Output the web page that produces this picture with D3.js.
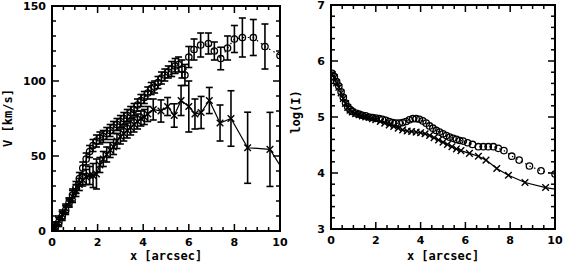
<!DOCTYPE html>
<html><head><meta charset="utf-8">
<script src="https://cdn.jsdelivr.net/npm/d3@7"></script>
<style>body{margin:0;background:#fff}svg{display:block}</style>
</head><body><svg id="c" width="564" height="265"></svg>
<script>
// ---- Left panel: rotation velocity ----
const vCircX = [0.05,0.15,0.3,0.45,0.6,0.75,0.9,1.05,1.2,1.35,1.5,1.65,1.8,1.95,2.1,2.25,2.4,2.55,2.7,2.85,3.0,3.15,3.3,3.45,3.6,3.75,3.9,4.05,4.2,4.35,4.5,4.65,4.8,4.95,5.1,5.25,5.4,5.55,5.7,5.83,6.0,6.23,6.52,6.86,7.12,7.4,7.7,8.0,8.35,8.83,9.34,10.0];
const vCircV = [1,3,6,10,14,19,24,29,35,42,48,53,57,60,62,63,65,67,69,71,73,75,77,79,81,84,87,89,92,95,96,99,102,104,106,108,110,111,108,104,116,121,124,125,120,115,122,128,129,129,123,117];
const vCircE = [3,3,3,3,3,3,4,4,4,4,4,4,4,4,4,4,4,4,4,4,4,4,4,4,4,4,4,4,4,4,4,4,4,4,4,5,5,5,6,7,7,7,8,7,6,7.5,8,9,13,12,15,0];

const vCrossX = [0.05,0.15,0.3,0.45,0.6,0.75,0.9,1.05,1.2,1.35,1.5,1.65,1.8,1.95,2.1,2.25,2.4,2.55,2.7,2.85,3.0,3.15,3.3,3.45,3.6,3.75,3.9,4.05,4.2,4.44,4.78,5.07,5.36,5.66,6.0,6.27,6.54,6.9,7.37,7.85,8.58,9.56,10.2];
const vCrossV = [1,3,7,11,15,19,23,27,31,34,36,37,37,38,44,48,51,54,56,60,63,65,67,69,71,73,75,76,78,81,80,83,77,87,83,78,79,87,72,75,55.5,54.4,39];
const vCrossE = [3,3,3,3,3,3,4,4,4,4,5,6,8,10,5,5,5,5,5,5,5,5,5,5,5,5,5,5,5,7,7.4,6,7.8,10,17,10,10.7,8.7,12,18.5,23.7,24.7,0];

// ---- Right panel: log(I) ----
const iCircX = [0.05,0.15,0.25,0.35,0.45,0.55,0.65,0.75,0.85,0.95,1.1,1.25,1.4,1.55,1.7,1.85,2.0,2.15,2.3,2.45,2.6,2.75,2.9,3.05,3.2,3.35,3.5,3.65,3.8,3.95,4.1,4.25,4.4,4.55,4.7,4.85,5.0,5.15,5.3,5.45,5.6,5.75,5.9,6.1,6.32,6.58,6.8,7.02,7.25,7.47,7.72,8.07,8.4,8.86,9.375,10.0];
const iCircV = [5.78,5.72,5.63,5.55,5.45,5.35,5.25,5.18,5.13,5.10,5.07,5.05,5.03,5.02,5.0,4.99,4.98,4.97,4.96,4.94,4.92,4.90,4.89,4.89,4.90,4.92,4.95,4.97,4.97,4.96,4.93,4.89,4.84,4.80,4.76,4.73,4.70,4.67,4.64,4.62,4.60,4.58,4.57,4.54,4.51,4.47,4.47,4.47,4.47,4.44,4.40,4.30,4.23,4.125,4.04,3.98];

const iCrossX = [0.05,0.15,0.25,0.35,0.45,0.55,0.65,0.75,0.85,0.95,1.1,1.25,1.4,1.55,1.7,1.85,2.0,2.2,2.4,2.6,2.8,3.0,3.2,3.4,3.6,3.8,4.0,4.2,4.4,4.6,4.8,5.0,5.2,5.4,5.6,5.8,6.18,6.58,6.92,7.4,7.92,8.66,9.58,10.3];
const iCrossV = [5.76,5.70,5.61,5.53,5.43,5.33,5.24,5.17,5.12,5.09,5.06,5.04,5.02,5.0,4.99,4.97,4.95,4.92,4.89,4.86,4.83,4.80,4.77,4.75,4.74,4.73,4.72,4.70,4.67,4.63,4.59,4.55,4.51,4.47,4.43,4.40,4.35,4.30,4.23,4.08,3.96,3.83,3.74,3.69];

const xTicks = [0,2,4,6,8,10];
const vTicks = [0,50,100,150];
const iTicks = [3,4,5,6,7];

const svg = d3.select("#c");
const FONT = "DejaVu Sans, sans-serif";
const LFONT = "DejaVu Sans Mono, monospace";

function panel(o){
  const g = svg.append("g");
  const x = d3.scaleLinear().domain([0,10]).range([o.x0,o.x1]);
  const y = d3.scaleLinear().domain(o.ydom).range([o.y1,o.y0]);
  const cid = "clip"+o.id;
  svg.append("clipPath").attr("id",cid).append("rect")
    .attr("x",o.x0).attr("y",o.y0).attr("width",o.x1-o.x0).attr("height",o.y1-o.y0);
  const data = g.append("g").attr("clip-path",`url(#${cid})`);
  const tk = g.append("g").attr("stroke","#000").attr("stroke-width",1.5);
  const xMinor = d3.range(0,10.001,0.5), yMinor = d3.range(o.ydom[0],o.ydom[1]+1e-6,o.yminor);
  xMinor.forEach(v=>{
    const major = Math.abs(v/2-Math.round(v/2))<1e-6;
    const L = major?7:4;
    tk.append("line").attr("x1",x(v)).attr("x2",x(v)).attr("y1",o.y1).attr("y2",o.y1-L);
    tk.append("line").attr("x1",x(v)).attr("x2",x(v)).attr("y1",o.y0).attr("y2",o.y0+L);
  });
  yMinor.forEach(v=>{
    const major = o.yticks.some(t=>Math.abs(t-v)<1e-6);
    const L = major?7:4;
    tk.append("line").attr("y1",y(v)).attr("y2",y(v)).attr("x1",o.x0).attr("x2",o.x0+L);
    tk.append("line").attr("y1",y(v)).attr("y2",y(v)).attr("x1",o.x1).attr("x2",o.x1-L);
  });
  g.append("rect").attr("x",o.x0).attr("y",o.y0).attr("width",o.x1-o.x0).attr("height",o.y1-o.y0)
    .attr("fill","none").attr("stroke","#000").attr("stroke-width",2);
  g.append("g").selectAll("text").data(xTicks).join("text")
    .attr("x",d=>x(d)).attr("y",o.y1+15).attr("text-anchor","middle")
    .attr("font-family",FONT).attr("font-weight","bold").attr("font-size",11).text(d=>d);
  g.append("g").selectAll("text").data(o.yticks).join("text")
    .attr("x",o.x0-6).attr("y",d=>y(d)+4).attr("text-anchor","end")
    .attr("font-family",FONT).attr("font-weight","bold").attr("font-size",11).text(d=>d);
  g.append("text").attr("x",(o.x0+o.x1)/2).attr("y",260).attr("text-anchor","middle")
    .attr("font-family",LFONT).attr("font-weight","bold").attr("font-size",12).text("x [arcsec]");
  g.append("text").attr("transform",`translate(${o.ylx},${o.yly}) rotate(-90)`).attr("text-anchor","middle")
    .attr("font-family",LFONT).attr("font-weight","bold").attr("font-size",12).text(o.ylabel);
  return {x,y,data};
}

function errorBars(p, d){
  const eb = p.data.append("g").attr("stroke","#000").attr("stroke-width",1.6);
  d.filter(q=>q.e>0).forEach(q=>{
    eb.append("line").attr("x1",p.x(q.x)).attr("x2",p.x(q.x)).attr("y1",p.y(q.v-q.e)).attr("y2",p.y(q.v+q.e));
    [q.v-q.e,q.v+q.e].forEach(t=>eb.append("line").attr("x1",p.x(q.x)-3.5).attr("x2",p.x(q.x)+3.5).attr("y1",p.y(t)).attr("y2",p.y(t)));
  });
}

function drawSeries(p, xs, vs, es, kind){
  const d = xs.map((xx,i)=>({x:xx,v:vs[i],e:es?es[i]:0}));
  if(es) errorBars(p,d);
  const line = d3.line().x(q=>p.x(q.x)).y(q=>p.y(q.v));
  p.data.append("path").datum(d).attr("d",line).attr("fill","none").attr("stroke","#000")
    .attr("stroke-width",1.2).attr("stroke-dasharray",kind==="o"?"1.5,3.5":null);
  const m = p.data.append("g");
  d.forEach(q=>{
    const cx=p.x(q.x), cy=p.y(q.v);
    if(kind==="o"){
      m.append("circle").attr("cx",cx).attr("cy",cy).attr("r",3.2).attr("fill","none").attr("stroke","#000").attr("stroke-width",1.3);
    } else {
      const s=3.3;
      m.append("path").attr("d",`M${cx-s},${cy-s}L${cx+s},${cy+s}M${cx-s},${cy+s}L${cx+s},${cy-s}`)
        .attr("stroke","#000").attr("stroke-width",1.4);
    }
  });
}

const L = panel({id:"L",x0:52,x1:280,y0:6,y1:231,ydom:[0,150],yticks:vTicks,yminor:10,ylabel:"V [km/s]",ylx:12,yly:118});
drawSeries(L, vCircX, vCircV, vCircE, "o");
drawSeries(L, vCrossX, vCrossV, vCrossE, "x");

const R = panel({id:"R",x0:331,x1:555,y0:5,y1:229,ydom:[3,7],yticks:iTicks,yminor:0.2,ylabel:"log(I)",ylx:300,yly:112});
drawSeries(R, iCircX, iCircV, null, "o");
drawSeries(R, iCrossX, iCrossV, null, "x");
</script></body></html>
